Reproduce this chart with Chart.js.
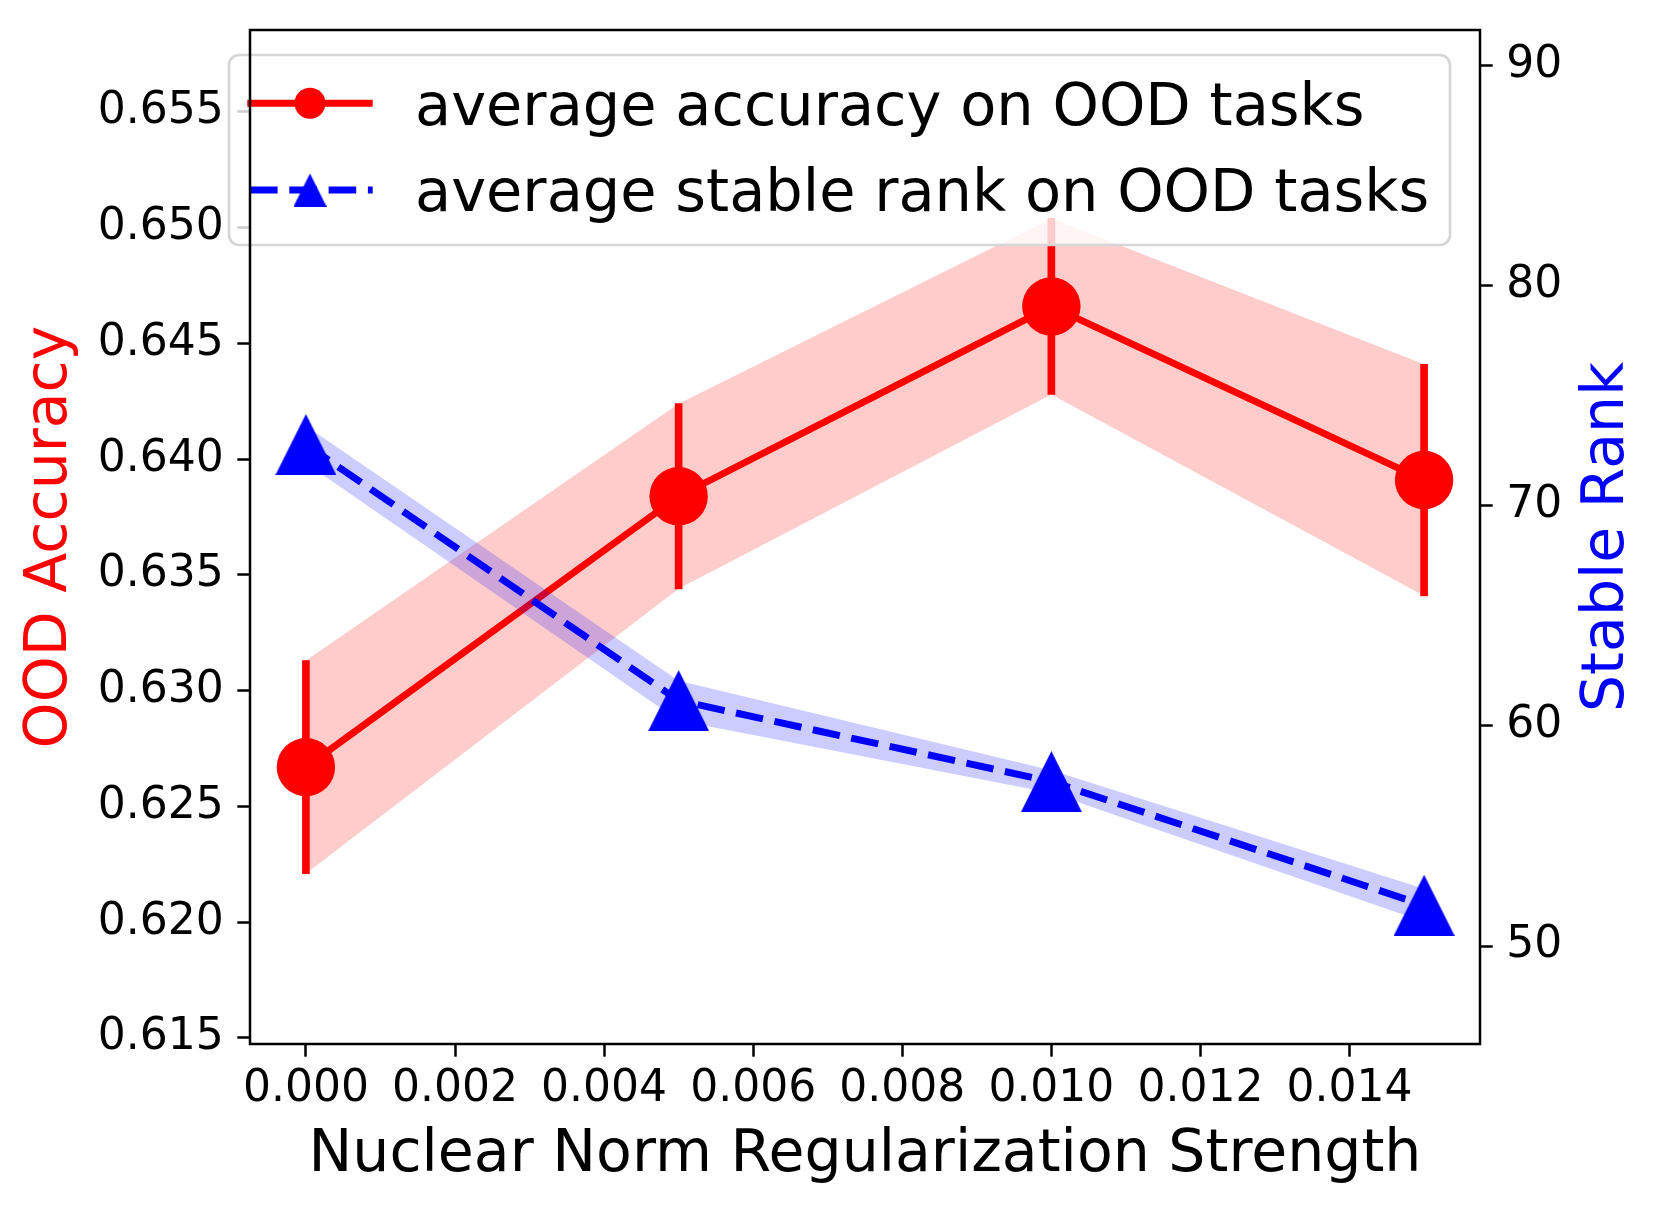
<!DOCTYPE html>
<html lang="en">
<head>
    <meta charset="UTF-8">
    <title>OOD accuracy vs stable rank</title>
    <script src="https://cdn.jsdelivr.net/npm/chart.js"></script>
    <style>
        html, body { margin: 0; padding: 0; background: #fff; }
        canvas { display: block; }
    </style>
</head>
<body>
    <canvas id="grafico" width="1660" height="1211"></canvas>
<script>
    // valores
    const strengths = [0, 0.005, 0.010, 0.015];
    const accMean = [0.6267, 0.6384, 0.6466, 0.6391];
    const accStd = [0.0046, 0.0040, 0.0038, 0.0050];
    const rankMean = [72.78, 61.15, 57.47, 51.85];
    const rankStd = [0.85, 0.90, 0.52, 0.75];

    const xTicks = [0, 0.002, 0.004, 0.006, 0.008, 0.010, 0.012, 0.014];
    const accTicks = [0.615, 0.620, 0.625, 0.630, 0.635, 0.640, 0.645, 0.650, 0.655];
    const rankTicks = [50, 60, 70, 80, 90];
    const xLimits = [-0.00075, 0.01575];
    const accLimits = [0.61474, 0.65854];
    const rankLimits = [45.55, 91.61];

    const legendLabels = ['average accuracy on OOD tasks', 'average stable rank on OOD tasks'];

    const fonte = 'DejaVu Sans';
    const vermelho = '#ff0000';
    const azul = '#0000ff';

    Chart.defaults.font.family = fonte;

    function triangulo(tam) {
        const c = document.createElement('canvas');
        c.width = tam;
        c.height = tam;
        const g = c.getContext('2d');
        g.fillStyle = azul;
        g.beginPath();
        g.moveTo(tam / 2, 0);
        g.lineTo(tam, tam);
        g.lineTo(0, tam);
        g.closePath();
        g.fill();
        return c;
    }

    const pontos = ys => strengths.map((x, i) => ({ x: x, y: ys[i] }));

    function semMargem(s) {
        s.paddingTop = 0;
        s.paddingBottom = 0;
        s.paddingLeft = 0;
        s.paddingRight = 0;
    }

    function eixo(ticks, largura) {
        return {
            type: 'linear',
            afterBuildTicks: s => { s.ticks = ticks.map(v => ({ value: v })); },
            afterFit: s => { s.width = largura; semMargem(s); },
            grid: { drawOnChartArea: false, tickLength: 12.7, tickWidth: 2.5, tickColor: '#000' },
            border: { display: false }
        };
    }

    // legenda estilo matplotlib, desenhada logo depois da curva vermelha
    const legendaPlugin = {
        id: 'legenda',
        afterDatasetDraw(chart, args) {
            if (chart.data.datasets[args.index].label !== legendLabels[0]) return;
            const ctx = chart.ctx;
            ctx.save();
            ctx.beginPath();
            ctx.roundRect(229, 55, 1450 - 229, 245 - 55, 10);
            ctx.fillStyle = 'rgba(255,255,255,0.8)';
            ctx.fill();
            ctx.lineWidth = 2.7;
            ctx.strokeStyle = '#d6d6d6';
            ctx.stroke();

            // linha vermelha + circulo
            ctx.strokeStyle = vermelho;
            ctx.lineWidth = 7;
            ctx.beginPath();
            ctx.moveTo(247.3, 103.3);
            ctx.lineTo(372.7, 103.3);
            ctx.stroke();
            ctx.fillStyle = vermelho;
            ctx.beginPath();
            ctx.arc(310, 103.3, 15.5, 0, Math.PI * 2);
            ctx.fill();

            // linha azul tracejada + triangulo
            ctx.strokeStyle = azul;
            ctx.setLineDash([27.6, 11.7]);
            ctx.beginPath();
            ctx.moveTo(250, 190);
            ctx.lineTo(372.7, 190);
            ctx.stroke();
            ctx.setLineDash([]);
            const t = triangulo(33);
            ctx.drawImage(t, 310 - 16.5, 190 - 16.5);

            ctx.fillStyle = '#000';
            ctx.font = '59px "' + fonte + '"';
            ctx.textBaseline = 'alphabetic';
            ctx.textAlign = 'left';
            ctx.fillText(legendLabels[0], 415, 124.5);
            ctx.fillText(legendLabels[1], 415, 211);
            ctx.restore();
        }
    };

    const molduraPlugin = {
        id: 'moldura',
        afterDatasetsDraw(chart) {
            const a = chart.chartArea;
            const ctx = chart.ctx;
            ctx.save();
            ctx.strokeStyle = '#000';
            ctx.lineWidth = 2.5;
            ctx.strokeRect(a.left, a.top, a.right - a.left, a.bottom - a.top);
            ctx.restore();
        },
        afterDraw(chart) {
            const a = chart.chartArea;
            const ctx = chart.ctx;
            ctx.save();
            ctx.translate(1623, (a.top + a.bottom) / 2);
            ctx.rotate(-Math.PI / 2);
            ctx.fillStyle = azul;
            ctx.font = '58.5px "' + fonte + '"';
            ctx.textAlign = 'center';
            ctx.textBaseline = 'alphabetic';
            ctx.fillText('Stable Rank', 0, 0);
            ctx.restore();
        }
    };

    const eixoX = eixo(xTicks, 0);
    eixoX.afterFit = s => { s.height = 167; semMargem(s); };
    Object.assign(eixoX, {
        min: xLimits[0], max: xLimits[1], offset: false,
        ticks: { color: '#000', font: { size: 44 }, padding: 6.5, maxRotation: 0, autoSkip: false, callback: v => v.toFixed(3) },
        title: { display: true, text: 'Nuclear Norm Regularization Strength', color: '#000', font: { size: 58.5 }, padding: { top: 0, bottom: 20.1 } }
    });
    eixoX.grid.offset = false;

    const eixoAcc = eixo(accTicks, 250);
    Object.assign(eixoAcc, {
        position: 'left', min: accLimits[0], max: accLimits[1],
        ticks: { color: '#000', font: { size: 44 }, padding: 13.5, callback: v => v.toFixed(3) },
        title: { display: true, text: 'OOD Accuracy', color: vermelho, font: { size: 58.5 }, padding: { top: 15.7, bottom: 0 } }
    });

    const eixoRank = eixo(rankTicks, 180);
    Object.assign(eixoRank, {
        position: 'right', min: rankLimits[0], max: rankLimits[1],
        ticks: { color: '#000', font: { size: 44 }, padding: 13.5, callback: v => String(v) }
    });

    new Chart(document.getElementById('grafico'), {
        type: 'line',
        data: {
            datasets: [
                {
                    label: 'accHigh', data: pontos(accMean.map((m, i) => m + accStd[i])), yAxisID: 'y',
                    borderWidth: 0, borderColor: 'transparent', pointRadius: 0,
                    fill: '+1', backgroundColor: 'rgba(255,0,0,0.2)', order: 7
                },
                {
                    label: 'accLow', data: pontos(accMean.map((m, i) => m - accStd[i])), yAxisID: 'y',
                    borderWidth: 0, borderColor: 'transparent', pointRadius: 0, fill: false, order: 6
                },
                {
                    type: 'bar', label: 'accErr', yAxisID: 'y',
                    data: strengths.map((x, i) => ({ x: x, y: [accMean[i] - accStd[i], accMean[i] + accStd[i]] })),
                    backgroundColor: vermelho, borderWidth: 0, barThickness: 7, order: 5
                },
                {
                    label: legendLabels[0], data: pontos(accMean), yAxisID: 'y',
                    borderColor: vermelho, borderWidth: 7, borderJoinStyle: 'round',
                    pointStyle: 'circle', pointRadius: 29.2, pointBackgroundColor: vermelho, pointBorderWidth: 0,
                    fill: false, order: 4
                },
                {
                    label: 'rankHigh', data: pontos(rankMean.map((m, i) => m + rankStd[i])), yAxisID: 'y1',
                    borderWidth: 0, borderColor: 'transparent', pointRadius: 0,
                    fill: '+1', backgroundColor: 'rgba(0,0,255,0.2)', order: 3
                },
                {
                    label: 'rankLow', data: pontos(rankMean.map((m, i) => m - rankStd[i])), yAxisID: 'y1',
                    borderWidth: 0, borderColor: 'transparent', pointRadius: 0, fill: false, order: 2
                },
                {
                    label: legendLabels[1], data: pontos(rankMean), yAxisID: 'y1',
                    borderColor: azul, borderWidth: 7, borderDash: [27.6, 11.7], borderJoinStyle: 'round',
                    pointStyle: triangulo(61), pointRadius: 30, pointBorderWidth: 0,
                    fill: false, order: 1
                }
            ]
        },
        options: {
            responsive: false,
            devicePixelRatio: 1,
            animation: false,
            events: [],
            layout: { padding: { top: 25, left: 0, right: 0, bottom: 0 } },
            plugins: {
                legend: { display: false },
                tooltip: { enabled: false }
            },
            scales: { x: eixoX, y: eixoAcc, y1: eixoRank }
        },
        plugins: [legendaPlugin, molduraPlugin]
    });
</script>
</body>
</html>
